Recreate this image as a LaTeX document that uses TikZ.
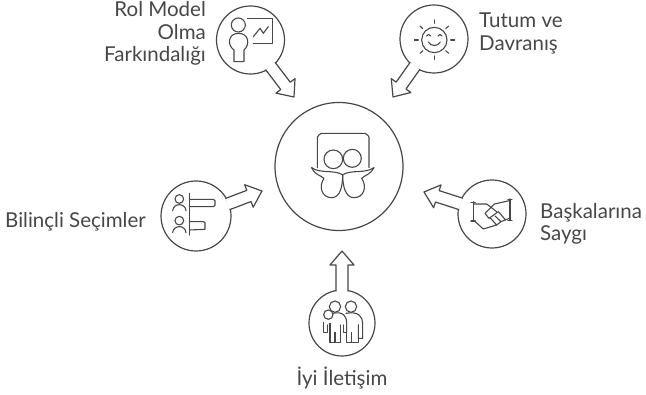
\documentclass[tikz,border=0pt]{standalone}
\usepackage{fontspec}
\setmainfont{Lato}
\usetikzlibrary{calc}
\definecolor{ink}{HTML}{474747}
\tikzset{
  hubc/.style={circle,draw=ink,line width=1.2pt,minimum size=#1,inner sep=0pt,outer sep=0pt},
  lbl/.style={text=ink,font=\fontsize{20.5}{22.5}\selectfont,inner sep=0pt},
  ico/.style={draw=ink,line width=1.1pt,line join=round,line cap=round},
  zoomed/.style={shift={#1},x=0.3333pt,y=-0.3333pt}
}
\newcommand\keyarrow[3]{% circle node, tip, radius
  \coordinate (h) at ($(#2)!14pt!(#1)$);
  \coordinate (s1) at ($(#1)!#3-1pt!(#2)!6pt!90:(#2)$);
  \coordinate (s2) at ($(#1)!#3-1pt!(#2)!6pt!-90:(#2)$);
  \coordinate (n1) at ($(h)!6pt!90:(#2)$);
  \coordinate (n2) at ($(h)!6pt!-90:(#2)$);
  \coordinate (b1) at ($(h)!12pt!90:(#2)$);
  \coordinate (b2) at ($(h)!12pt!-90:(#2)$);
  \fill[white] (s1) -- (n1) -- (b1) -- (#2) -- (b2) -- (n2) -- (s2) -- cycle;
  \draw[ico,line width=1.2pt] (s1) -- (n1) -- (b1) -- (#2) -- (b2) -- (n2) -- (s2);
}
\begin{document}
\begin{tikzpicture}[x=1pt,y=-1pt]
\useasboundingbox (0,0) rectangle (646,395);
% circles
\node[hubc=128pt] (hub) at (339,166.5) {};
\node[hubc=68pt] (rol) at (250.5,40) {};
\node[hubc=68pt] (tutum) at (434,39) {};
\node[hubc=70pt] (secim) at (196,216) {};
\node[hubc=68pt] (saygi) at (492,214) {};
\node[hubc=66pt] (iyi) at (342,323) {};
% arrow tips
\coordinate (trol) at (294,97);
\coordinate (ttutum) at (393,97);
\coordinate (tsecim) at (262,191);
\coordinate (tsaygi) at (424,192);
\coordinate (tiyi) at (342,251);
\keyarrow{rol}{trol}{34pt}
\keyarrow{tutum}{ttutum}{34pt}
\keyarrow{secim}{tsecim}{35pt}
\keyarrow{saygi}{tsaygi}{34pt}
\keyarrow{iyi}{tiyi}{33pt}
% labels
\node[lbl,align=right,anchor=east] (lrol) at (206,33.5) {Rol Model\\Olma\\Farkındalığı};
\node[lbl,align=left,anchor=west] (ltutum) at (479,33.5) {Tutum ve\\Davranış};
\node[lbl,anchor=west] (lsecim) at (5,222) {Bilinçli Seçimler};
\node[lbl,align=left,anchor=west] (lsaygi) at (540,224) {Başkalarına\\Saygı};
\node[lbl] (liyi) at (342,378) {İyi İletişim};
% hub icon
\begin{scope}[zoomed={(270,100)}]
\draw[ico] (142,203) -- (142,112) to[out=90,in=180,looseness=.6] (155,100) -- (283,100) to[out=0,in=90,looseness=.6] (297,112) -- (297,203);
\draw[ico] (190,178) circle (28);
\draw[ico] (247,175) circle (27);
\draw[ico] (125,203) .. controls (150,222) and (195,208) .. (218,225) .. controls (240,208) and (285,222) .. (312,203);
\draw[ico] (125,203) .. controls (135,225) and (150,225) .. (162,235) .. controls (145,260) and (155,293) .. (185,293) .. controls (212,293) and (218,255) .. (218,225);
\draw[ico] (312,203) .. controls (300,225) and (285,225) .. (275,235) .. controls (292,260) and (282,293) .. (252,293) .. controls (225,293) and (218,255) .. (218,225);
\end{scope}
% role model icon
\begin{scope}[zoomed={(90,0)}]
\draw[ico] (445,75) circle (21);
\draw[ico] (432,150) .. controls (410,135) and (415,100) .. (445,100) .. controls (478,100) and (480,135) .. (462,150) -- (462,185) -- (432,185) -- cycle;
\draw[ico] (472,55) -- (548,55) -- (548,130) -- (490,130);
\draw[ico] (490,110) -- (510,85) -- (520,100) -- (535,80);
\end{scope}
% sun icon
\begin{scope}[zoomed={(380,0)}]
\draw[ico] (163,120) circle (38);
\draw[ico] (163,60) -- (163,70) (163,168) -- (163,178) (103,120) -- (115,120) (212,120) -- (224,120);
\draw[ico] (120,78) -- (128,86) (206,78) -- (197,86) (120,160) -- (129,152) (206,160) -- (197,152);
\draw[ico] (140,108) .. controls (144,102) and (148,102) .. (152,108);
\draw[ico] (174,108) .. controls (178,102) and (182,102) .. (186,108);
\draw[ico] (145,126) .. controls (152,140) and (174,140) .. (181,126);
\end{scope}
% choices icon
\begin{scope}[zoomed={(150,170)}]
\draw[ico] (118,70) -- (118,195);
\draw[ico] (118,88) -- (190,88) -- (195,92) -- (195,106) -- (190,110) -- (118,110);
\draw[ico] (118,155) -- (160,155) -- (165,158) -- (165,178) -- (118,180);
\draw[ico] (88,87) circle (13);
\draw[ico] (88,152) circle (13);
\draw[ico] (68,122) .. controls (70,98) and (106,98) .. (108,122);
\draw[ico] (68,188) .. controls (70,164) and (106,164) .. (108,188);
\end{scope}
% handshake icon
\begin{scope}[zoomed={(415,170)}]
\draw[ico] (175,95) -- (175,155) (168,97) -- (181,97) (168,153) -- (181,153);
\draw[ico] (285,87) -- (285,152) (279,88) -- (291,88) (279,151) -- (291,151);
\draw[ico] (175,102) -- (215,102) -- (245,125);
\draw[ico] (283,92) -- (238,102) -- (210,130) -- (222,145) -- (250,125) -- (272,150);
\draw[ico] (175,150) -- (205,177) -- (245,165) -- (225,143);
\draw[ico] (245,165) -- (258,155) -- (240,138);
\draw[ico] (258,155) -- (283,145);
\end{scope}
% family icon
\begin{scope}[zoomed={(290,245)}]
\draw[ico] (135,185) circle (17);
\draw[ico] (183,185) circle (17);
\draw[ico] (115,209) circle (14);
\draw[ico] (100,232) -- (100,262) -- (112,262) -- (112,240);
\draw[ico] (128,205) .. controls (160,198) and (170,215) .. (170,232) -- (170,262);
\draw[ico] (120,235) -- (120,292) -- (152,292) -- (152,240);
\draw[ico] (135,292) -- (135,262);
\draw[ico] (168,205) .. controls (205,198) and (218,215) .. (218,235) -- (218,280) -- (205,280) -- (205,240);
\draw[ico] (170,262) -- (160,262) -- (160,240);
\draw[ico] (170,250) -- (170,292) -- (205,292) -- (205,240);
\draw[ico] (185,292) -- (185,262);
\end{scope}
\end{tikzpicture}
\end{document}
